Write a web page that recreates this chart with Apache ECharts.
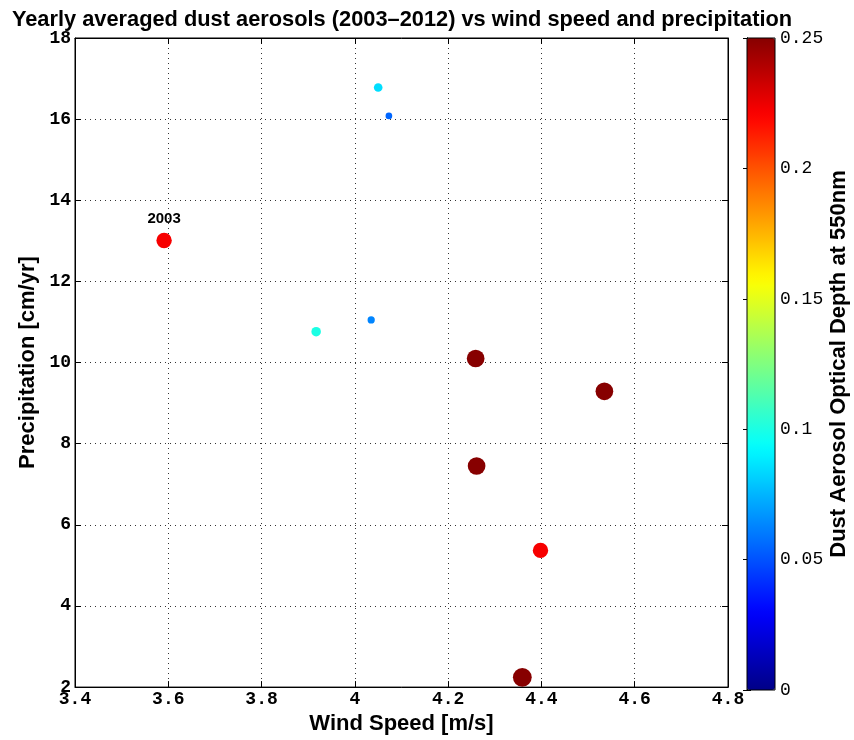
<!DOCTYPE html>
<html>
<head>
<meta charset="utf-8">
<script src="https://cdn.jsdelivr.net/npm/echarts@6/dist/echarts.min.js"></script>
<style>html,body{margin:0;padding:0;background:#fff}#c{width:854px;height:740px}</style>
</head>
<body>
<div id="c"></div>
<script>
// ---- data ----
var years = ['2003', '', '', '', '', '', '', '', '', ''];
var windSpeed = [3.591, 4.050, 4.073, 3.917, 4.035, 4.259, 4.535, 4.261, 4.398, 4.359];
var precipitation = [13.01, 16.78, 16.08, 10.76, 11.05, 10.10, 9.29, 7.45, 5.37, 2.24];
var dustAOD = [0.222, 0.085, 0.055, 0.100, 0.063, 0.28, 0.28, 0.28, 0.222, 0.31];
var xTicks = [3.4, 3.6, 3.8, 4.0, 4.2, 4.4, 4.6, 4.8];
var yTicks = [2, 4, 6, 8, 10, 12, 14, 16, 18];
var cbTicks = [0, 0.05, 0.1, 0.15, 0.2, 0.25];

// jet colormap (64 levels)
function jet(t) {
  function c(x) { return Math.max(0, Math.min(1, x)); }
  var r = c(Math.min(4 * t - 1.5, -4 * t + 4.5));
  var g = c(Math.min(4 * t - 0.5, -4 * t + 3.5));
  var b = c(Math.min(4 * t + 0.5, -4 * t + 2.5));
  return 'rgb(' + Math.round(r * 255) + ',' + Math.round(g * 255) + ',' + Math.round(b * 255) + ')';
}
var jetColors = [];
for (var i = 0; i < 64; i++) jetColors.push(jet((i + 0.5) / 64));

var data = windSpeed.map(function (x, i) {
  return {
    value: [x, precipitation[i], dustAOD[i]],
    label: { show: years[i] !== '', formatter: years[i] }
  };
});

var tickFont = { fontFamily: 'Liberation Mono', fontWeight: 'bold', fontSize: 18, color: '#000' };
var nameFont = { fontFamily: 'Liberation Sans', fontWeight: 'bold', fontSize: 22, color: '#000' };
var gridLine = { show: true, lineStyle: { color: '#333', type: [1, 4], width: 1 } };
var boxTick = { show: true, inside: true, length: 6, lineStyle: { color: '#000' } };
var boxLine = { show: true, onZero: false, lineStyle: { color: '#000' } };

var chart = echarts.init(document.getElementById('c'), null, { renderer: 'canvas' });
chart.setOption({
  animation: false,
  backgroundColor: '#fff',
  title: {
    text: 'Yearly averaged dust aerosols (2003\u20132012) vs wind speed and precipitation',
    left: 397, top: 4, textAlign: 'center',
    textStyle: { fontFamily: 'Liberation Sans', fontWeight: 'bold', fontSize: 21.8, color: '#000' }
  },
  grid: [
    { left: 75, top: 38, width: 653, height: 652, show: true, borderColor: '#000', borderWidth: 1, backgroundColor: 'transparent' },
    { left: 747, top: 38, width: 28, height: 652, show: true, borderColor: '#000', borderWidth: 1, backgroundColor: 'transparent', z: 10 }
  ],
  xAxis: [
    {
      gridIndex: 0, type: 'value', min: xTicks[0], max: xTicks[xTicks.length - 1], interval: 0.2,
      name: 'Wind Speed [m/s]', nameLocation: 'middle', nameGap: 20,
      nameTextStyle: nameFont,
      axisLine: boxLine, axisTick: boxTick,
      axisLabel: Object.assign({ margin: 3 }, tickFont, { formatter: function (v) { return String(Math.round(v * 10) / 10); } }),
      splitLine: gridLine
    },
    {
      gridIndex: 0, type: 'value', position: 'top', min: xTicks[0], max: xTicks[xTicks.length - 1], interval: 0.2,
      axisLine: boxLine, axisTick: boxTick,
      axisLabel: { show: false }, splitLine: { show: false }
    },
    { gridIndex: 1, type: 'value', min: 0, max: 1, show: false }
  ],
  yAxis: [
    {
      gridIndex: 0, type: 'value', min: yTicks[0], max: yTicks[yTicks.length - 1], interval: 2,
      name: 'Precipitation [cm/yr]', nameLocation: 'middle', nameGap: 32, nameRotate: 90,
      nameTextStyle: nameFont,
      axisLine: boxLine, axisTick: boxTick,
      axisLabel: Object.assign({ margin: 4 }, tickFont),
      splitLine: gridLine
    },
    {
      gridIndex: 0, type: 'value', position: 'right', min: yTicks[0], max: yTicks[yTicks.length - 1], interval: 2,
      axisLine: boxLine, axisTick: boxTick,
      axisLabel: { show: false }, splitLine: { show: false }
    },
    {
      gridIndex: 1, type: 'value', position: 'right', min: cbTicks[0], max: cbTicks[cbTicks.length - 1], interval: 0.05,
      name: 'Dust Aerosol Optical Depth at 550nm', nameLocation: 'middle', nameGap: 53, nameRotate: 90,
      nameTextStyle: nameFont,
      axisLine: { show: true, lineStyle: { color: '#000' } },
      axisTick: { show: true, inside: true, length: 4, lineStyle: { color: '#000' } },
      axisLabel: { margin: 5, fontFamily: 'Liberation Mono', fontSize: 18, color: '#000' },
      splitLine: { show: false }
    },
    {
      gridIndex: 1, type: 'value', position: 'left', min: cbTicks[0], max: cbTicks[cbTicks.length - 1], interval: 0.05,
      axisLine: { show: true, lineStyle: { color: '#000' } },
      axisTick: { show: true, inside: true, length: 4, lineStyle: { color: '#000' } },
      axisLabel: { show: false }, splitLine: { show: false }
    }
  ],
  visualMap: {
    type: 'continuous', min: 0, max: 0.25, dimension: 2, seriesIndex: 0,
    orient: 'vertical', left: 747, top: 38, itemWidth: 28, itemHeight: 652, padding: 0,
    calculable: false, text: null, showLabel: false, hoverLink: false,
    inRange: { color: jetColors }
  },
  series: [{
    type: 'scatter', xAxisIndex: 0, yAxisIndex: 0,
    data: data,
    symbolSize: function (v) { return 38 * Math.pow(v[2], 0.6); },
    itemStyle: { opacity: 1 },
    label: { position: 'top', distance: 6, fontFamily: 'Liberation Sans', fontWeight: 'bold', fontSize: 15, color: '#000' }
  }]
});
</script>
</body>
</html>
